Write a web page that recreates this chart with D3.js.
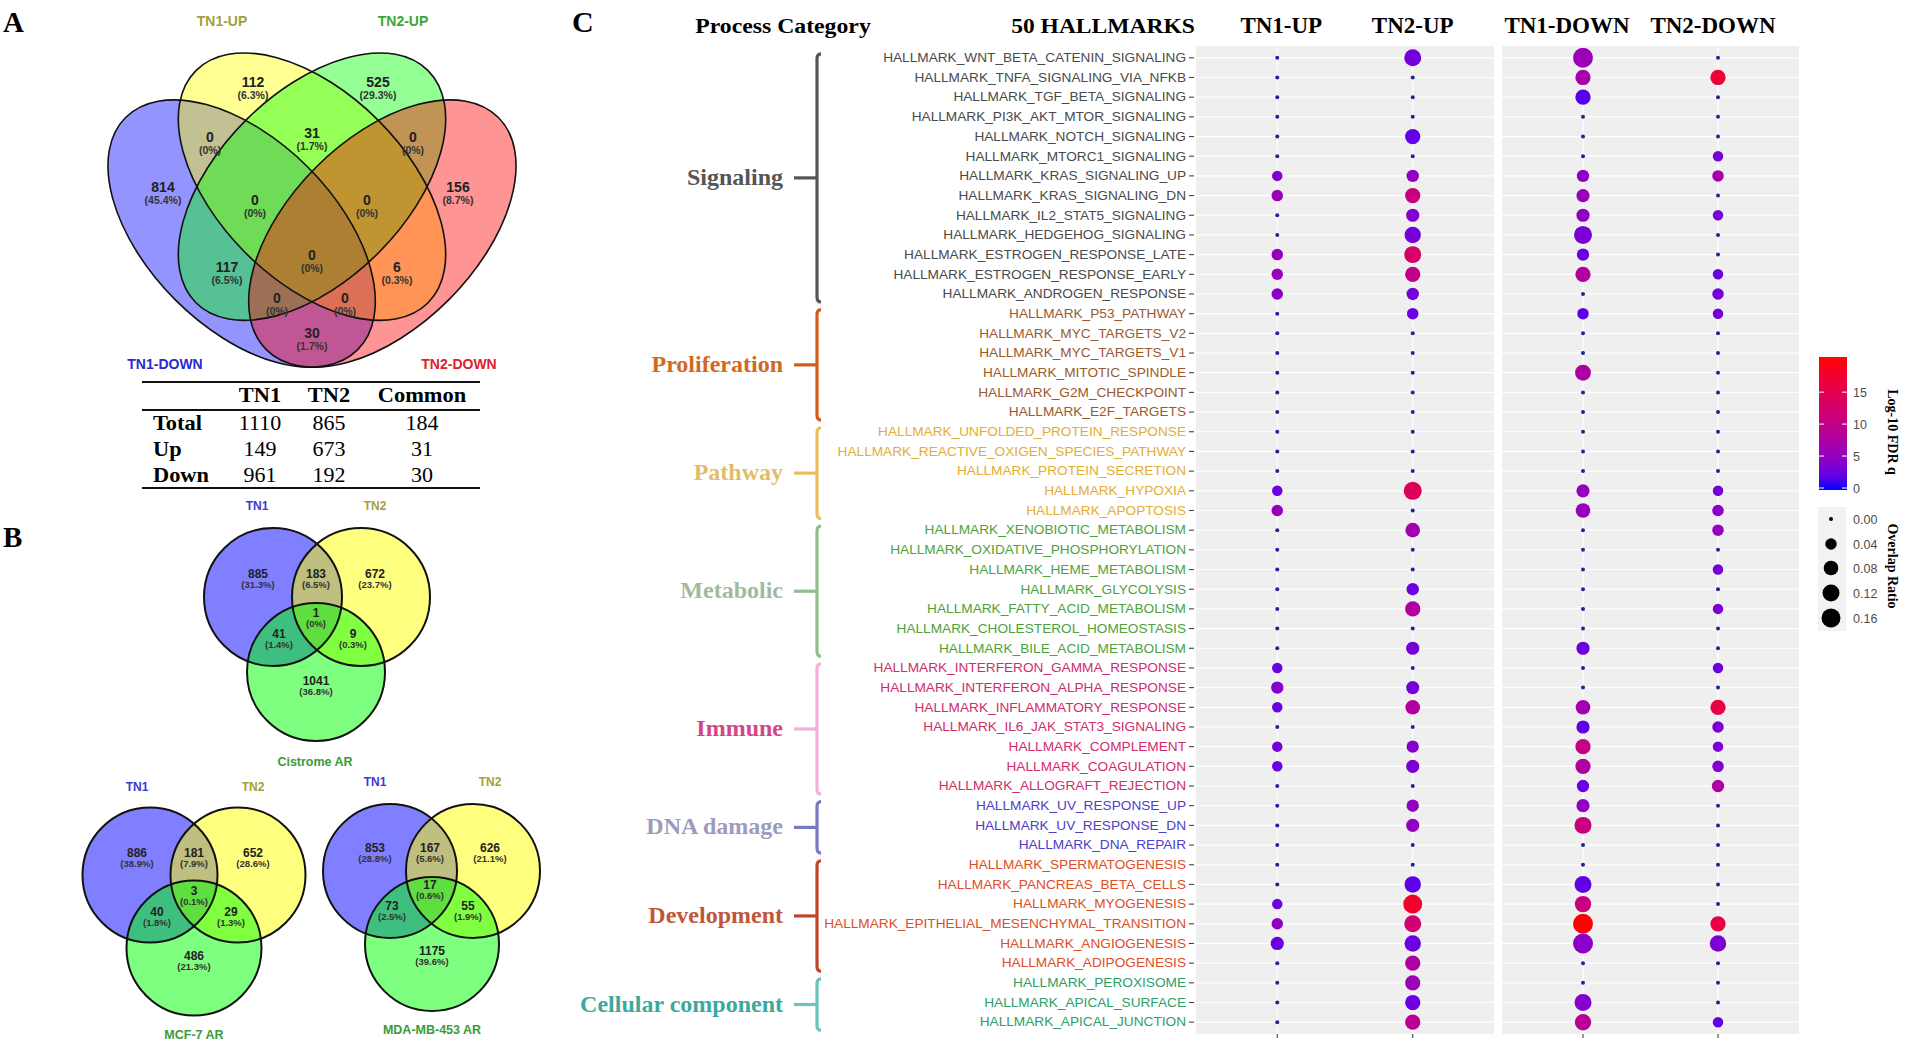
<!DOCTYPE html>
<html><head><meta charset="utf-8">
<script src="https://cdn.jsdelivr.net/npm/d3@7"></script>
<style>body{margin:0;background:#fff} svg{display:block}</style>
</head><body>
<svg id="fig" width="1912" height="1046"></svg>
<script>
// ================= DATA =================
// Panel A : four-set Venn
const vennASets = ["TN1-DOWN", "TN1-UP", "TN2-UP", "TN2-DOWN"];
const vennARegions = ["TN1-DOWN", "TN1-UP", "TN2-UP", "TN2-DOWN",
  "TN1-DOWN&TN1-UP", "TN1-UP&TN2-UP", "TN2-UP&TN2-DOWN",
  "TN1-DOWN&TN1-UP&TN2-UP", "TN1-UP&TN2-UP&TN2-DOWN", "ALL",
  "TN1-DOWN&TN2-UP", "TN1-UP&TN2-DOWN",
  "TN1-DOWN&TN2-UP&TN2-DOWN", "TN1-DOWN&TN1-UP&TN2-DOWN", "TN1-DOWN&TN2-DOWN"];
const vennACounts = [814, 112, 525, 156, 0, 31, 0, 0, 0, 0, 117, 6, 0, 0, 30];
const vennAPcts = ["45.4%", "6.3%", "29.3%", "8.7%", "0%", "1.7%", "0%", "0%", "0%", "0%", "6.5%", "0.3%", "0%", "0%", "1.7%"];

// Table under panel A
const tableCols = ["TN1", "TN2", "Common"];
const tableRows = ["Total", "Up", "Down"];
const tableTN1 = [1110, 149, 961];
const tableTN2 = [865, 673, 192];
const tableCommon = [184, 31, 30];

// Panel B : three-set Venns
const vennBTitles = ["Cistrome AR", "MCF-7 AR", "MDA-MB-453 AR"];
const vennBSets = ["TN1", "TN2"];
// region order: TN1 only, TN1&TN2, TN2 only, TN1&AR, all, TN2&AR, AR only
const vennBCounts = [
  [885, 183, 672, 41, 1, 9, 1041],
  [886, 181, 652, 40, 3, 29, 486],
  [853, 167, 626, 73, 17, 55, 1175]];
const vennBPcts = [
  ["31.3%", "6.5%", "23.7%", "1.4%", "0%", "0.3%", "36.8%"],
  ["38.9%", "7.9%", "28.6%", "1.8%", "0.1%", "1.3%", "21.3%"],
  ["28.8%", "5.6%", "21.1%", "2.5%", "0.6%", "1.9%", "39.6%"]];

// Panel C : dot plot of 50 hallmarks
const hallmarks = [
"HALLMARK_WNT_BETA_CATENIN_SIGNALING","HALLMARK_TNFA_SIGNALING_VIA_NFKB","HALLMARK_TGF_BETA_SIGNALING",
"HALLMARK_PI3K_AKT_MTOR_SIGNALING","HALLMARK_NOTCH_SIGNALING","HALLMARK_MTORC1_SIGNALING",
"HALLMARK_KRAS_SIGNALING_UP","HALLMARK_KRAS_SIGNALING_DN","HALLMARK_IL2_STAT5_SIGNALING",
"HALLMARK_HEDGEHOG_SIGNALING","HALLMARK_ESTROGEN_RESPONSE_LATE","HALLMARK_ESTROGEN_RESPONSE_EARLY",
"HALLMARK_ANDROGEN_RESPONSE","HALLMARK_P53_PATHWAY","HALLMARK_MYC_TARGETS_V2","HALLMARK_MYC_TARGETS_V1",
"HALLMARK_MITOTIC_SPINDLE","HALLMARK_G2M_CHECKPOINT","HALLMARK_E2F_TARGETS",
"HALLMARK_UNFOLDED_PROTEIN_RESPONSE","HALLMARK_REACTIVE_OXIGEN_SPECIES_PATHWAY","HALLMARK_PROTEIN_SECRETION",
"HALLMARK_HYPOXIA","HALLMARK_APOPTOSIS","HALLMARK_XENOBIOTIC_METABOLISM","HALLMARK_OXIDATIVE_PHOSPHORYLATION",
"HALLMARK_HEME_METABOLISM","HALLMARK_GLYCOLYSIS","HALLMARK_FATTY_ACID_METABOLISM","HALLMARK_CHOLESTEROL_HOMEOSTASIS",
"HALLMARK_BILE_ACID_METABOLISM","HALLMARK_INTERFERON_GAMMA_RESPONSE","HALLMARK_INTERFERON_ALPHA_RESPONSE",
"HALLMARK_INFLAMMATORY_RESPONSE","HALLMARK_IL6_JAK_STAT3_SIGNALING","HALLMARK_COMPLEMENT","HALLMARK_COAGULATION",
"HALLMARK_ALLOGRAFT_REJECTION","HALLMARK_UV_RESPONSE_UP","HALLMARK_UV_RESPONSE_DN","HALLMARK_DNA_REPAIR",
"HALLMARK_SPERMATOGENESIS","HALLMARK_PANCREAS_BETA_CELLS","HALLMARK_MYOGENESIS",
"HALLMARK_EPITHELIAL_MESENCHYMAL_TRANSITION","HALLMARK_ANGIOGENESIS","HALLMARK_ADIPOGENESIS",
"HALLMARK_PEROXISOME","HALLMARK_APICAL_SURFACE","HALLMARK_APICAL_JUNCTION"];
const categories = ["Signaling", "Proliferation", "Pathway", "Metabolic", "Immune", "DNA damage", "Development", "Cellular component"];
const categorySizes = [13, 6, 5, 7, 7, 3, 6, 3];
const groups = ["TN1-UP", "TN2-UP", "TN1-DOWN", "TN2-DOWN"];

const tn1UpRatio = [
0,0,0,0,0,0,0.03,0.04,0,0,
0.04,0.04,0.04,0,0,0,0,0,0,0,
0,0,0.03,0.04,0,0,0,0,0,0,
0,0.03,0.05,0.03,0,0.03,0.03,0,0,0,
0,0,0,0.03,0.04,0.06,0,0,0,0];
const tn1UpFdr = [
0,0,0,0,0,0,4,6,0,0,
5.5,5.5,4.5,0,0,0,0,0,0,0,
0,0,2.5,5.5,0,0,0,0,0,0,
0,2.5,4,2.5,0,3,2.5,0,0,0,
0,0,0,2.5,5,2.5,0,0,0,0];
const tn2UpRatio = [
0.12,0,0,0,0.09,0,0.05,0.09,0.06,0.11,
0.12,0.09,0.05,0.04,0,0,0,0,0,0,
0,0,0.14,0,0.08,0,0,0.05,0.09,0,
0.06,0,0.06,0.08,0,0.05,0.06,0,0.05,0.06,
0,0,0.11,0.16,0.12,0.11,0.09,0.09,0.09,0.09];
const tn2UpFdr = [
3,0,0,0,2,0,5,11,4,3,
13,10,3,2.5,0,0,0,0,0,0,
0,0,14,0,6.5,0,0,2.5,8,0,
3,0,3,8,0,4,3.5,0,5,5,
0,0,2,18,12,2.5,7.5,6,2.5,9];
const tn1DownRatio = [
0.18,0.09,0.09,0,0,0,0.05,0.06,0.06,0.14,
0.05,0.09,0,0.04,0,0,0.1,0,0,0,
0,0,0.06,0.08,0,0,0,0,0,0,
0.06,0,0,0.08,0.06,0.09,0.09,0.05,0.06,0.12,
0,0,0.12,0.11,0.18,0.18,0,0,0.12,0.11];
const tn1DownFdr = [
6,7,1.5,0,0,0,5,5.5,5,3.5,
2.5,8,0,2,0,0,7.5,0,0,0,
0,0,5.5,5.5,0,0,0,0,0,0,
2.5,0,0,6.5,2,10.5,8,2.5,5,11,
0,0,2,11,20,4.5,0,0,4,9];
const tn2DownRatio = [
0,0.09,0,0,0,0.03,0.04,0,0.03,0,
0,0.03,0.04,0.03,0,0,0,0,0,0,
0,0,0.03,0.04,0.04,0,0.03,0,0.03,0,
0,0.03,0,0.09,0.04,0.03,0.04,0.05,0,0,
0,0,0,0,0.09,0.11,0,0,0,0.03];
const tn2DownFdr = [
0,17,0,0,0,3,7,0,3,0,
0,2.5,3,3,0,0,0,0,0,0,
0,0,3,4.5,5.5,0,3,0,3.5,0,
0,2.5,0,16,3.5,3.5,4,8,0,0,
0,0,0,0,16,3.5,0,0,0,2];

const colorTicks = [0, 5, 10, 15];
const sizeLegendValues = [0, 0.04, 0.08, 0.12, 0.16];

// ================= STYLE / LAYOUT =================
const SERIF = "'Liberation Serif','Times New Roman',serif";
const SANS = "'Liberation Sans',Arial,Helvetica,sans-serif";
const svg = d3.select("#fig");

function txt(g, x, y, s, o = {}) {
  const t = g.append("text").attr("x", x).attr("y", y).text(s)
    .attr("font-family", o.family || SANS).attr("font-size", o.size || 12)
    .attr("font-weight", o.weight || "normal").attr("fill", o.fill || "#000")
    .attr("text-anchor", o.anchor || "start");
  if (o.sx) t.attr("x", 0).attr("y", 0).attr("transform", `translate(${x},${y}) scale(${o.sx},1)`);
  if (o.rotate) t.attr("x", 0).attr("y", 0).attr("transform", `translate(${x},${y}) rotate(${o.rotate})`);
  return t;
}

// Panel letters
txt(svg, 3, 32, "A", {family: SERIF, size: 29, weight: "bold"});
txt(svg, 3, 547, "B", {family: SERIF, size: 29, weight: "bold"});
txt(svg, 572, 32, "C", {family: SERIF, size: 30, weight: "bold"});

// ---------- Panel A : Venn ----------
(function () {
  const cx = 312, S = 469, top = -15;
  const ux = u => cx + (u - 0.5) * S, uy = v => top + v * S;
  const ell = [ // VennDiagram quad layout (unit coords)
    {x: 0.35, y: 0.53, rot: 45, fill: "#0000ff"},
    {x: 0.50, y: 0.43, rot: 45, fill: "#ffff00"},
    {x: 0.50, y: 0.43, rot: -45, fill: "#00ff00"},
    {x: 0.65, y: 0.53, rot: -45, fill: "#ff0000"}];
  const g = svg.append("g");
  ell.forEach(e => g.append("ellipse")
    .attr("transform", `translate(${ux(e.x)},${uy(e.y)}) rotate(${e.rot})`)
    .attr("rx", 0.35 * S).attr("ry", 0.2 * S)
    .attr("fill", e.fill).attr("fill-opacity", 0.42));
  ell.forEach(e => g.append("ellipse")
    .attr("transform", `translate(${ux(e.x)},${uy(e.y)}) rotate(${e.rot})`)
    .attr("rx", 0.35 * S).attr("ry", 0.2 * S)
    .attr("fill", "none").attr("stroke", "#111").attr("stroke-width", 1.6));
  const regionPos = {
    "TN1-DOWN": [163, 187], "TN1-UP": [253, 82], "TN2-UP": [378, 82], "TN2-DOWN": [458, 187],
    "TN1-DOWN&TN1-UP": [210, 137], "TN1-UP&TN2-UP": [312, 133], "TN2-UP&TN2-DOWN": [413, 137],
    "TN1-DOWN&TN1-UP&TN2-UP": [255, 200], "TN1-UP&TN2-UP&TN2-DOWN": [367, 200], "ALL": [312, 255],
    "TN1-DOWN&TN2-UP": [227, 267], "TN1-UP&TN2-DOWN": [397, 267],
    "TN1-DOWN&TN2-UP&TN2-DOWN": [277, 298], "TN1-DOWN&TN1-UP&TN2-DOWN": [345, 298], "TN1-DOWN&TN2-DOWN": [312, 333]};
  vennARegions.forEach((r, i) => {
    const [x, y] = regionPos[r];
    txt(g, x, y + 5, vennACounts[i], {size: 14, weight: "bold", anchor: "middle", fill: "#222"});
    txt(g, x, y + 17, "(" + vennAPcts[i] + ")", {size: 10.5, weight: "bold", anchor: "middle", fill: "#333"});
  });
  const labPos = {"TN1-UP": [222, 26], "TN2-UP": [403, 26], "TN1-DOWN": [165, 369], "TN2-DOWN": [459, 369]};
  const labCol = {"TN1-UP": "#a3a13a", "TN2-UP": "#3aa63a", "TN1-DOWN": "#2a2ad0", "TN2-DOWN": "#e0202a"};
  vennASets.forEach(s => txt(g, labPos[s][0], labPos[s][1], s, {size: 14, weight: "bold", anchor: "middle", fill: labCol[s]}));
})();

// ---------- Table ----------
(function () {
  const g = svg.append("g");
  const x0 = 142, x1 = 480;
  [382, 410, 488].forEach(y => g.append("line").attr("x1", x0).attr("x2", x1).attr("y1", y).attr("y2", y)
    .attr("stroke", "#111").attr("stroke-width", 2.2));
  const colX = [260, 329, 422];
  tableCols.forEach((c, i) => txt(g, colX[i], 402, c, {family: SERIF, size: 20, weight: "bold", anchor: "middle", sx: 1.12}));
  const rowY = [430, 456, 482];
  const vals = [tableTN1, tableTN2, tableCommon];
  tableRows.forEach((r, j) => {
    txt(g, 153, rowY[j], r, {family: SERIF, size: 20, weight: "bold", sx: 1.12});
    vals.forEach((v, i) => txt(g, colX[i], rowY[j], v[j], {family: SERIF, size: 20, anchor: "middle", sx: 1.1}));
  });
})();

// ---------- Panel B ----------
(function () {
  const layouts = [
    {c1: [273, 597], c2: [361, 597], c3: [316, 672], r: 69,
     lab1: [257, 510], lab2: [375, 510], title: [315, 766],
     pos: [[258, 576], [316, 576], [375, 576], [279, 636], [316, 615], [353, 636], [316, 683]]},
    {c1: [150, 875], c2: [238, 875], c3: [194, 948], r: 67.5,
     lab1: [137, 791], lab2: [253, 791], title: [194, 1039],
     pos: [[137, 855], [194, 855], [253, 855], [157, 914], [194, 893], [231, 914], [194, 958]]},
    {c1: [390, 871], c2: [473, 871], c3: [432, 944], r: 67,
     lab1: [375, 786], lab2: [490, 786], title: [432, 1034],
     pos: [[375, 850], [430, 850], [490, 850], [392, 908], [430, 887], [468, 908], [432, 953]]}];
  const fills = ["#0000ff", "#ffff00", "#00ff00"];
  layouts.forEach((L, k) => {
    const g = svg.append("g");
    const cs = [L.c1, L.c2, L.c3];
    cs.forEach((c, i) => g.append("circle").attr("cx", c[0]).attr("cy", c[1]).attr("r", L.r)
      .attr("fill", fills[i]).attr("fill-opacity", 0.5));
    cs.forEach(c => g.append("circle").attr("cx", c[0]).attr("cy", c[1]).attr("r", L.r)
      .attr("fill", "none").attr("stroke", "#111").attr("stroke-width", 2));
    vennBCounts[k].forEach((n, i) => {
      const [x, y] = L.pos[i];
      txt(g, x, y + 2, n, {size: 12, weight: "bold", anchor: "middle", fill: "#222"});
      txt(g, x, y + 12, "(" + vennBPcts[k][i] + ")", {size: 9.5, weight: "bold", anchor: "middle", fill: "#333"});
    });
    txt(g, L.lab1[0], L.lab1[1], vennBSets[0], {size: 12, weight: "bold", anchor: "middle", fill: "#3a3ad2"});
    txt(g, L.lab2[0], L.lab2[1], vennBSets[1], {size: 12, weight: "bold", anchor: "middle", fill: "#a3a13a"});
    txt(g, L.title[0], L.title[1], vennBTitles[k], {size: 12.5, weight: "bold", anchor: "middle", fill: "#3a9a3a"});
  });
})();

// ---------- Panel C ----------
(function () {
  const g = svg.append("g");
  const yTop = 46, yBot = 1034;
  const y = d3.scalePoint().domain(hallmarks).range([yTop, yBot]).padding(0.6);
  const panels = [
    {cols: ["TN1-UP", "TN2-UP"], x0: 1196, x1: 1494},
    {cols: ["TN1-DOWN", "TN2-DOWN"], x0: 1502, x1: 1799}];
  const xOf = {};
  panels.forEach(p => {
    const xs = d3.scalePoint().domain(p.cols).range([p.x0, p.x1]).padding(0.6);
    p.cols.forEach(c => xOf[c] = xs(c));
    g.append("rect").attr("x", p.x0).attr("y", yTop).attr("width", p.x1 - p.x0).attr("height", yBot - yTop).attr("fill", "#efefef");
    hallmarks.forEach(h => g.append("line").attr("x1", p.x0).attr("x2", p.x1).attr("y1", y(h)).attr("y2", y(h))
      .attr("stroke", "#fff").attr("stroke-width", 1.2));
    p.cols.forEach(c => {
      g.append("line").attr("x1", xs(c)).attr("x2", xs(c)).attr("y1", yTop).attr("y2", yBot).attr("stroke", "#fff").attr("stroke-width", 1.2);
      g.append("line").attr("x1", xs(c)).attr("x2", xs(c)).attr("y1", yBot).attr("y2", yBot + 4).attr("stroke", "#444").attr("stroke-width", 1.1);
    });
  });

  const catColors = {
    "Signaling": {label: "#555555", bracket: "#555555", text: "#4a4a4a"},
    "Proliferation": {label: "#d2691e", bracket: "#cf5d1c", text: "#9a5a2e"},
    "Pathway": {label: "#e0bd6a", bracket: "#e8bf5c", text: "#e2ae35"},
    "Metabolic": {label: "#9fbb9f", bracket: "#8cbf8c", text: "#4ea23c"},
    "Immune": {label: "#d4468a", bracket: "#f0b2d8", text: "#d02c6c"},
    "DNA damage": {label: "#9c9abf", bracket: "#7a78c0", text: "#4d40c8"},
    "Development": {label: "#c0573a", bracket: "#c0452a", text: "#de4e28"},
    "Cellular component": {label: "#3ca99c", bracket: "#6cc3b9", text: "#2e9e6a"}};

  // category per row
  const rowCat = [];
  categories.forEach((c, i) => d3.range(categorySizes[i]).forEach(() => rowCat.push(c)));

  // y axis labels + ticks
  hallmarks.forEach((h, i) => {
    txt(g, 1186, y(h) + 4.3, h, {size: 12.2, anchor: "end", fill: catColors[rowCat[i]].text, sx: 1.12});
    g.append("line").attr("x1", 1189).attr("x2", 1194).attr("y1", y(h)).attr("y2", y(h)).attr("stroke", "#444").attr("stroke-width", 1.1);
  });

  // category brackets
  let start = 0;
  categories.forEach((c, i) => {
    const first = hallmarks[start], last = hallmarks[start + categorySizes[i] - 1];
    const y1 = y(first) - 4, y2 = y(last) + 8, ym = (y1 + y2) / 2, bx = 817;
    const col = catColors[c];
    g.append("path").attr("d", `M${bx + 4},${y1} Q${bx},${y1} ${bx},${y1 + 5} L${bx},${y2 - 5} Q${bx},${y2} ${bx + 4},${y2}`)
      .attr("fill", "none").attr("stroke", col.bracket).attr("stroke-width", 3.2);
    g.append("line").attr("x1", 794).attr("x2", bx).attr("y1", ym).attr("y2", ym).attr("stroke", col.bracket).attr("stroke-width", 3.2);
    txt(g, 783, ym + 7, c, {family: SERIF, size: 24, weight: "bold", anchor: "end", fill: col.label});
    start += categorySizes[i];
  });

  // headers
  txt(g, 783, 33, "Process Category", {family: SERIF, size: 22, weight: "bold", anchor: "middle", sx: 1.08});
  txt(g, 1103, 33, "50 HALLMARKS", {family: SERIF, size: 22, weight: "bold", anchor: "middle", sx: 1.07});
  const headerShift = {"TN1-UP": 4, "TN2-UP": 0, "TN1-DOWN": -16, "TN2-DOWN": -5};
  groups.forEach(gr => txt(g, xOf[gr] + headerShift[gr], 33, gr, {family: SERIF, size: 23, weight: "bold", anchor: "middle"}));

  // scales
  const size = d3.scaleSqrt().domain([0, 0.16]).range([2, 9.5]);
  const color = d3.scaleLinear().domain([0, 20]).range(["#0000ff", "#ff0000"]).interpolate(d3.interpolateLab);

  const series = {"TN1-UP": [tn1UpRatio, tn1UpFdr], "TN2-UP": [tn2UpRatio, tn2UpFdr],
                  "TN1-DOWN": [tn1DownRatio, tn1DownFdr], "TN2-DOWN": [tn2DownRatio, tn2DownFdr]};
  groups.forEach(gr => {
    const [ratio, fdr] = series[gr];
    hallmarks.forEach((h, i) => {
      g.append("circle").attr("cx", xOf[gr]).attr("cy", y(h)).attr("r", size(ratio[i]))
        .attr("fill", ratio[i] === 0 ? "#22229a" : color(fdr[i]));
    });
  });

  // colour bar legend
  const cbX = 1819, cbW = 28;
  const cy = d3.scaleLinear().domain([0, 20.5]).range([488, 357]);
  const defs = svg.append("defs");
  const grad = defs.append("linearGradient").attr("id", "cbar").attr("x1", 0).attr("x2", 0).attr("y1", 1).attr("y2", 0);
  d3.range(0, 1.0001, 0.1).forEach(t => grad.append("stop").attr("offset", t).attr("stop-color", color(t * 20.5)));
  g.append("rect").attr("x", cbX).attr("y", cy(20.5)).attr("width", cbW).attr("height", cy(0) - cy(20.5) + 2).attr("fill", "url(#cbar)");
  colorTicks.forEach(v => {
    g.append("line").attr("x1", cbX).attr("x2", cbX + 5).attr("y1", cy(v)).attr("y2", cy(v)).attr("stroke", "#fff").attr("stroke-width", 1);
    g.append("line").attr("x1", cbX + cbW - 5).attr("x2", cbX + cbW).attr("y1", cy(v)).attr("y2", cy(v)).attr("stroke", "#fff").attr("stroke-width", 1);
    txt(g, 1853, cy(v) + 4.5, v, {size: 12.5, fill: "#4d4d4d"});
  });
  txt(g, 1888, 432, "Log-10 FDR q", {family: SERIF, size: 14, weight: "bold", anchor: "middle", rotate: 90});

  // size legend
  const keyY = [519, 544, 568, 593, 618];
  g.append("rect").attr("x", 1818).attr("y", 507).attr("width", 28).attr("height", 124).attr("fill", "#f2f2f2");
  sizeLegendValues.forEach((v, i) => {
    g.append("circle").attr("cx", 1831).attr("cy", keyY[i]).attr("r", size(v)).attr("fill", "#000");
    txt(g, 1853, keyY[i] + 4.5, d3.format(".2f")(v), {size: 12.5, fill: "#4d4d4d"});
  });
  txt(g, 1888, 566, "Overlap Ratio", {family: SERIF, size: 14, weight: "bold", anchor: "middle", rotate: 90});
})();
</script>
</body></html>
